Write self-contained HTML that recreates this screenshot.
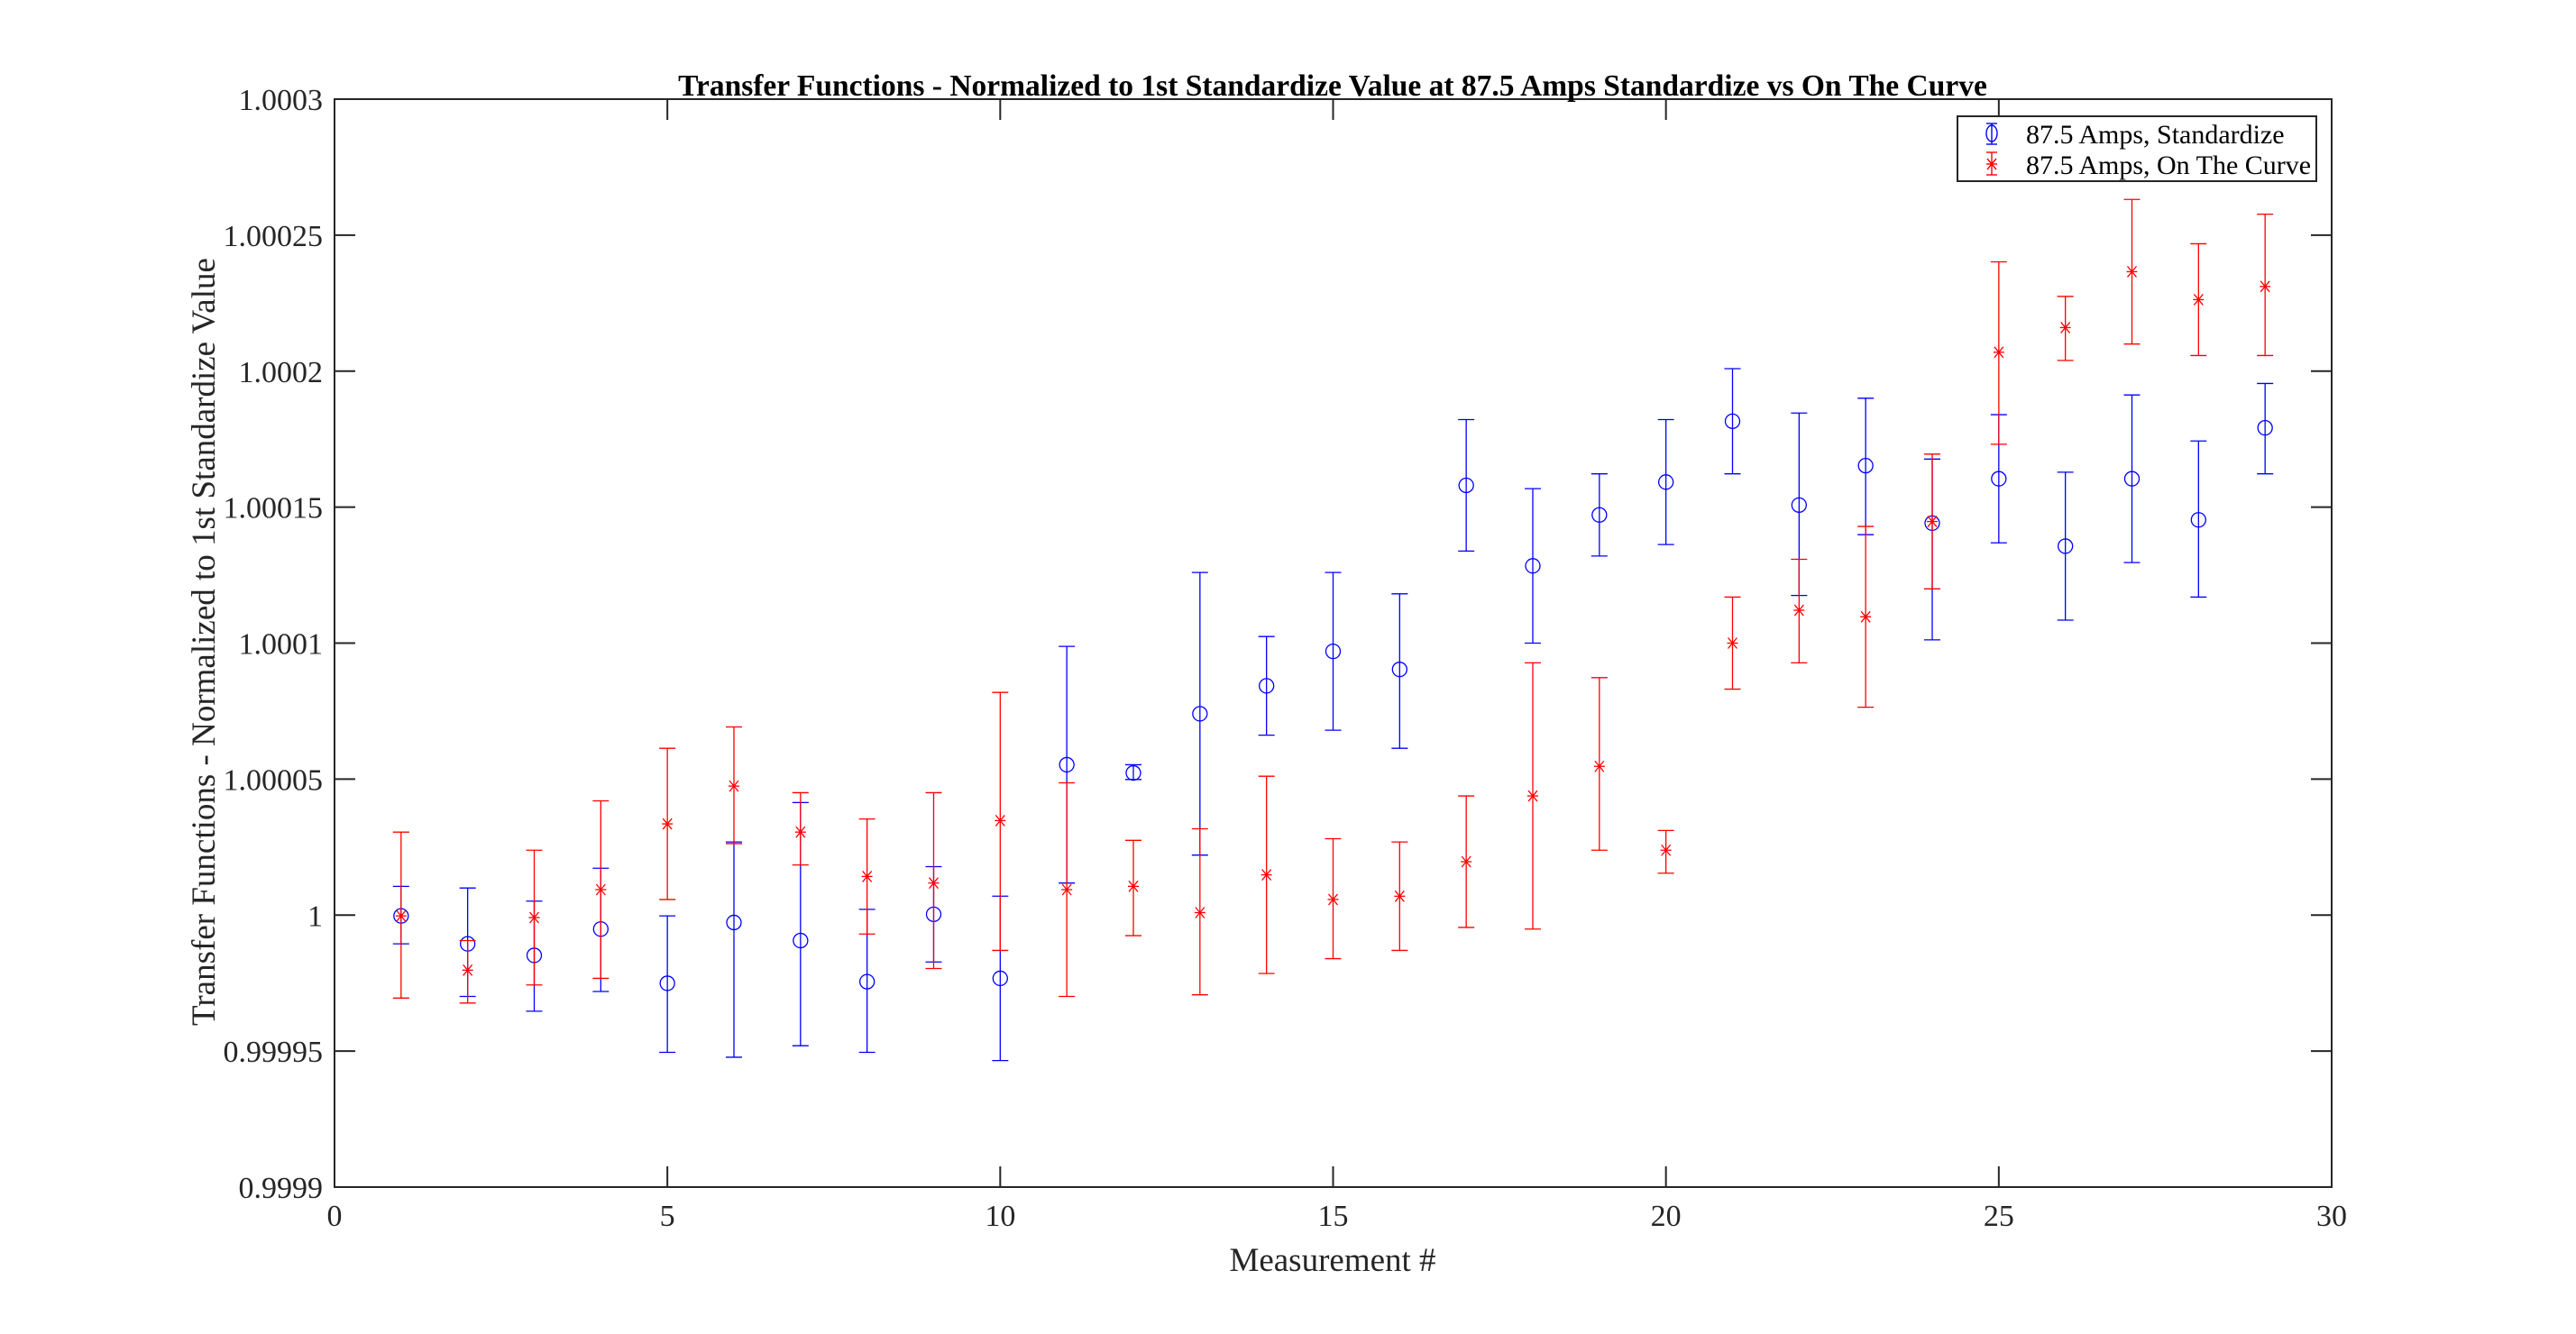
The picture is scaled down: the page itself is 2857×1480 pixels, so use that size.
<!DOCTYPE html>
<html><head><meta charset="utf-8"><style>
html,body{margin:0;padding:0;background:#fff;}
svg{display:block;}
text{font-family:"Liberation Serif",serif;fill:#262626;}
</style></head><body>
<svg id="s" width="2857" height="1480" xmlns="http://www.w3.org/2000/svg">
<rect x="0" y="0" width="2857" height="1480" fill="#fff"/>
<g id="data"></g>
<rect x="371" y="110" width="2215" height="1207" fill="none" stroke="#262626" stroke-width="2"/>
<g id="ticks" stroke="#262626" stroke-width="2"></g>
<g id="labels" font-size="34"></g>
<text x="1478" y="106" font-size="33.5" font-weight="bold" text-anchor="middle" style="fill:#000">Transfer Functions - Normalized to 1st Standardize Value at 87.5 Amps Standardize vs On The Curve</text>
<text x="1478" y="1410" font-size="37" text-anchor="middle">Measurement #</text>
<text transform="translate(238,712) rotate(-90)" font-size="37" text-anchor="middle">Transfer Functions - Normalized to 1st Standardize Value</text>
<rect x="2171" y="129" width="398" height="72" fill="#fff" stroke="#262626" stroke-width="2"/>
<g stroke="#00f" stroke-width="1.4" fill="none">
<line x1="2209" y1="137" x2="2209" y2="160"/><line x1="2203" y1="137" x2="2215" y2="137"/><line x1="2203" y1="160" x2="2215" y2="160"/>
<ellipse cx="2209" cy="148" rx="6" ry="9"/>
</g>
<g stroke="#f00" stroke-width="1.4" fill="none">
<line x1="2209" y1="169" x2="2209" y2="194"/><line x1="2203" y1="169" x2="2215" y2="169"/><line x1="2203" y1="194" x2="2215" y2="194"/>
<line x1="2204" y1="176" x2="2214" y2="188"/><line x1="2214" y1="176" x2="2204" y2="188"/><line x1="2203" y1="182" x2="2215" y2="182"/>
</g>
<text x="2247" y="159" font-size="30" style="fill:#000">87.5 Amps, Standardize</text>
<text x="2247" y="193" font-size="30" style="fill:#000">87.5 Amps, On The Curve</text>
</svg>
<script>
var NS="http://www.w3.org/2000/svg";
function el(p,t,a){var e=document.createElementNS(NS,t);for(var k in a)e.setAttribute(k,a[k]);p.appendChild(e);return e;}
var X=function(v){return 371+v*2215/30;};
var Y=function(d){return 110+(d-60)*1207/662;};
var blue=[[557,539,574],[574,540,606],[581,548,615],[565,528,603],[598,557,640],[561,512,643],[572,488,636],[597,553,640],[556,527,585],[595,545,645],[465,393,537],[470,465,474],[434,348,520],[417,387,447],[396,348,444],[407,361,455],[295,255,335],[344,297,391],[313,288,338],[293,255,331],[256,224,288],[307,251,362],[283,242,325],[318,279,389],[291,252,330],[332,287,377],[291,240,342],[316,268,363],[260,233,288]];
var red=[[557,506,607],[590,572,610],[558,517,599],[541,487,595],[501,455,547],[478,442,513],[506,482,526],[533,498,568],[537,482,589],[499,421,578],[541,476,606],[539,511,569],[555,504,605],[532,472,592],[547,510,583],[545,512,578],[524,484,564],[484,403,565],[466,412,517],[517,505,531],[391,363,419],[371,340,403],[375,320,430],[317,276,358],[214,159,270],[199,180,219],[165,121,209],[182,148,216],[174,130,216]];
var g=document.getElementById("data");
function bar(d,i,col){var x=X(i+1),y=Y(d[0]),a=Y(d[1]),b=Y(d[2]);
 var gg=el(g,"g",{stroke:col,"stroke-width":1.3,fill:"none"});
 el(gg,"line",{x1:x,y1:a,x2:x,y2:b});el(gg,"line",{x1:x-9,y1:a,x2:x+9,y2:a});el(gg,"line",{x1:x-9,y1:b,x2:x+9,y2:b});
 if(col=="#00f"){el(gg,"circle",{cx:x,cy:y,r:8});}
 else{el(gg,"line",{x1:x-5,y1:y-6,x2:x+5,y2:y+6});el(gg,"line",{x1:x+5,y1:y-6,x2:x-5,y2:y+6});el(gg,"line",{x1:x-6,y1:y,x2:x+6,y2:y});}
}
blue.forEach(function(d,i){bar(d,i,"#00f");});
red.forEach(function(d,i){bar(d,i,"#f00");});
var t=document.getElementById("ticks"),L=document.getElementById("labels");
for(var i=0;i<=6;i++){var x=371+i*2215/6;
 el(t,"line",{x1:x,y1:1317,x2:x,y2:1294});el(t,"line",{x1:x,y1:110,x2:x,y2:133});
 var tx=el(L,"text",{x:x,y:1360,"text-anchor":"middle"});tx.textContent=String(i*5);}
var yl=["0.9999","0.99995","1","1.00005","1.0001","1.00015","1.0002","1.00025","1.0003"];
for(var j=0;j<=8;j++){var y=1317-j*1207/8;
 el(t,"line",{x1:371,y1:y,x2:394,y2:y});el(t,"line",{x1:2586,y1:y,x2:2563,y2:y});
 var ty=el(L,"text",{x:358,y:y+12,"text-anchor":"end"});ty.textContent=yl[j];}
</script>
</body></html>
